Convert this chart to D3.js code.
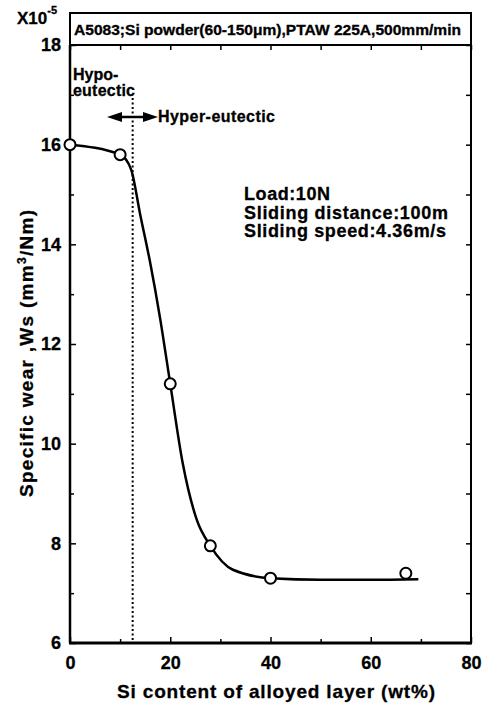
<!DOCTYPE html>
<html>
<head>
<meta charset="utf-8">
<script src="https://cdn.jsdelivr.net/npm/d3@7"></script>
<style>
  body { margin: 0; background: #fff; }
  svg { display: block; font-family: "Liberation Sans", Arial, sans-serif; font-weight: bold; }
  svg text { stroke: #000; stroke-width: 0.3px; }
</style>
</head>
<body>
<div id="chart"></div>
<script>
// measured points (wt% Si, specific wear x1e-5)
var siContent = [0, 10, 20, 28, 40, 67];
var wearValues = [16.0, 15.8, 11.2, 7.95, 7.3, 7.4];

// fitted curve
var fitX = [0, 10, 12.2, 14, 16, 18, 20, 22.5, 25.3, 28, 32.5, 40, 50, 60, 69.5];
var fitY = [16.0, 15.8, 15.5, 14.6, 13.63, 12.5, 11.2, 9.6, 8.47, 7.95, 7.47, 7.3, 7.27, 7.27, 7.28];

var xMajor = [0, 20, 40, 60, 80];
var xMinor = [10, 30, 50, 70];
var yMajor = [6, 8, 10, 12, 14, 16, 18];
var yMinor = [7, 9, 11, 13, 15, 17];

var eutecticSi = 12.5;
var conditions = ["Load:10N", "Sliding distance:100m", "Sliding speed:4.36m/s"];

var W = 484, H = 705;
var pLeft = 70, pRight = 471, pTop = 45, pBottom = 643;

var svg = d3.select("#chart").append("svg")
  .attr("width", W)
  .attr("height", H);

var x = d3.scaleLinear().domain([0, 80]).range([pLeft, pRight]);
var y = d3.scaleLinear().domain([6, 18]).range([pBottom, pTop]);

// title box
svg.append("rect")
  .attr("x", pLeft).attr("y", 13)
  .attr("width", pRight - pLeft).attr("height", pTop - 13)
  .attr("fill", "none").attr("stroke", "#000").attr("stroke-width", 2);
svg.append("text")
  .attr("x", pLeft + 4).attr("y", 35)
  .attr("font-size", 14)
  .attr("textLength", 387).attr("lengthAdjust", "spacingAndGlyphs")
  .text("A5083;Si powder(60-150\u03bcm),PTAW 225A,500mm/min");

// axes (inward ticks)
function styleAxis(g) {
  g.select(".domain").remove();
  g.selectAll("line").attr("stroke", "#000").attr("stroke-width", 1.5);
  g.selectAll("text").attr("font-size", 18).attr("font-weight", "bold")
    .attr("font-family", "'Liberation Sans', Arial, sans-serif").attr("fill", "#000");
}

svg.append("g").attr("transform", "translate(0," + pBottom + ")")
  .call(d3.axisBottom(x).tickValues(xMajor).tickSize(-6).tickPadding(13).tickFormat(d3.format("d")))
  .call(styleAxis);
svg.append("g").attr("transform", "translate(0," + pBottom + ")")
  .call(d3.axisBottom(x).tickValues(xMinor).tickSize(-4).tickFormat(""))
  .call(styleAxis);
svg.append("g").attr("transform", "translate(0," + pTop + ")")
  .call(d3.axisTop(x).tickValues(xMajor.concat(xMinor)).tickSize(-5).tickFormat(""))
  .call(styleAxis);

svg.append("g").attr("transform", "translate(" + pLeft + ",0)")
  .call(d3.axisLeft(y).tickValues(yMajor).tickSize(-6).tickPadding(9).tickFormat(d3.format("d")))
  .call(styleAxis);
svg.append("g").attr("transform", "translate(" + pLeft + ",0)")
  .call(d3.axisLeft(y).tickValues(yMinor).tickSize(-4).tickFormat(""))
  .call(styleAxis);
svg.append("g").attr("transform", "translate(" + pRight + ",0)")
  .call(d3.axisRight(y).tickValues(yMajor.concat(yMinor)).tickSize(-5).tickFormat(""))
  .call(styleAxis);

// frame
svg.append("line").attr("x1", pLeft).attr("x2", pLeft).attr("y1", pTop).attr("y2", pBottom)
  .attr("stroke", "#000").attr("stroke-width", 2.5);
svg.append("line").attr("x1", pLeft - 1).attr("x2", pRight + 1).attr("y1", pBottom).attr("y2", pBottom)
  .attr("stroke", "#000").attr("stroke-width", 3);
svg.append("line").attr("x1", pRight).attr("x2", pRight).attr("y1", pTop).attr("y2", pBottom)
  .attr("stroke", "#000").attr("stroke-width", 2);

// x10^-5
var mult = svg.append("text").attr("x", 17).attr("y", 24).attr("font-size", 17);
mult.append("tspan").text("X10");
mult.append("tspan").attr("dy", -10).attr("font-size", 11).text("-5");

// axis titles
svg.append("text")
  .attr("x", 117).attr("y", 698)
  .attr("font-size", 19)
  .attr("textLength", 318)
  .text("Si content of alloyed layer (wt%)");

var yt = svg.append("text")
  .attr("transform", "translate(33,497) rotate(-90)")
  .attr("font-size", 19)
  .attr("textLength", 287);
yt.append("tspan").text("Specific wear ,Ws (mm");
yt.append("tspan").attr("dy", -7).attr("font-size", 12).text("3");
yt.append("tspan").attr("dy", 7).text("/Nm)");

// eutectic divider
svg.append("line")
  .attr("x1", x(eutecticSi)).attr("x2", x(eutecticSi))
  .attr("y1", 98).attr("y2", pBottom)
  .attr("stroke", "#000").attr("stroke-width", 2)
  .attr("stroke-dasharray", "2,2.5");

svg.append("text").attr("x", 73).attr("y", 80).attr("font-size", 16).text("Hypo-");
svg.append("text").attr("x", 73).attr("y", 96).attr("font-size", 16).attr("textLength", 62).text("eutectic");

// double arrow
var ay = 117, ax1 = 107, ax2 = 158;
svg.append("line").attr("x1", ax1 + 8).attr("x2", ax2 - 8).attr("y1", ay).attr("y2", ay)
  .attr("stroke", "#000").attr("stroke-width", 2.5);
svg.append("path").attr("d", "M" + ax1 + "," + ay + "L" + (ax1 + 15) + "," + (ay - 5) + "L" + (ax1 + 15) + "," + (ay + 5) + "Z");
svg.append("path").attr("d", "M" + ax2 + "," + ay + "L" + (ax2 - 15) + "," + (ay - 5) + "L" + (ax2 - 15) + "," + (ay + 5) + "Z");
svg.append("text").attr("x", 158).attr("y", 122).attr("font-size", 16).attr("textLength", 117).text("Hyper-eutectic");

// test conditions
var condLen = [86, 204, 202];
svg.selectAll(".cond")
  .data(conditions)
  .enter().append("text")
  .attr("class", "cond")
  .attr("x", 244)
  .attr("y", function (d, i) { return 200 + i * 18.5; })
  .attr("font-size", 18)
  .attr("textLength", function (d, i) { return condLen[i]; })
  .text(function (d) { return d; });

// fitted curve
var fitData = fitX.map(function (d, i) { return [d, fitY[i]]; });
svg.append("path")
  .datum(fitData)
  .attr("fill", "none")
  .attr("stroke", "#000")
  .attr("stroke-width", 2.5)
  .attr("d", d3.line()
    .x(function (d) { return x(d[0]); })
    .y(function (d) { return y(d[1]); })
    .curve(d3.curveMonotoneX));

// measured points
svg.selectAll(".pt")
  .data(siContent)
  .enter().append("circle")
  .attr("class", "pt")
  .attr("cx", function (d) { return x(d); })
  .attr("cy", function (d, i) { return y(wearValues[i]); })
  .attr("r", 5.5)
  .attr("fill", "#fff")
  .attr("stroke", "#000")
  .attr("stroke-width", 2);
</script>
</body>
</html>
